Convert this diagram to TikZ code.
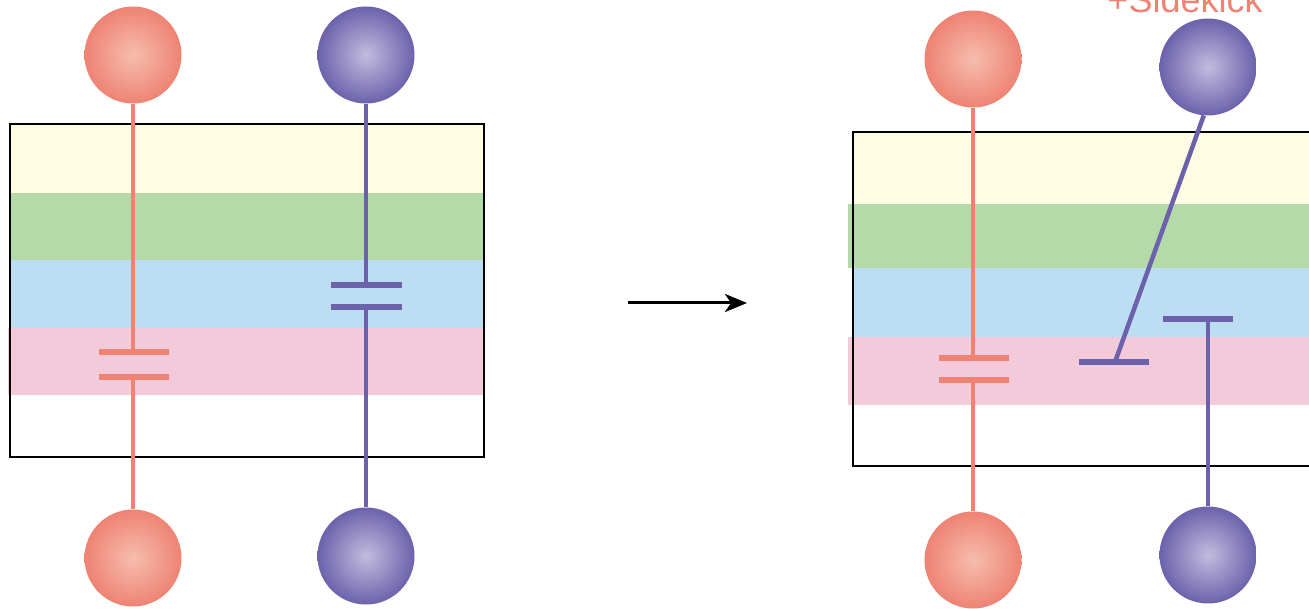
\documentclass[tikz,border=0pt]{standalone}
\usepackage{fontspec}
\setmainfont{Liberation Sans}
\usetikzlibrary{arrows.meta}
\definecolor{bandY}{HTML}{FEFCE3}
\definecolor{bandG}{HTML}{B4DAAA}
\definecolor{bandB}{HTML}{BDDDF2}
\definecolor{bandP}{HTML}{F2CADA}
\definecolor{redL}{HTML}{EE8373}
\definecolor{redIn}{HTML}{F6BDAE}
\definecolor{purL}{HTML}{6C62AC}
\definecolor{purIn}{HTML}{C2BCDE}
\tikzset{
  redball/.style={circle,inner sep=0pt,minimum size=97pt,shading=radial,inner color=redIn,outer color=redL},
  purball/.style={circle,inner sep=0pt,minimum size=97pt,shading=radial,inner color=purIn,outer color=purL},
  redwire/.style={draw=redL,line width=4.5pt},
  purwire/.style={draw=purL,line width=4.5pt},
  plate/.style={line width=5.5pt},
  boxframe/.style={draw=black,line width=2.2pt},
}
\begin{document}
\begin{tikzpicture}[x=1pt,y=-1pt]
\useasboundingbox (0,0) rectangle (1309,609);
\clip (0,0) rectangle (1309,609);
% ---------- left panel ----------
\fill[bandY] (10,124) rectangle (484,193);
\fill[bandG] (10,193) rectangle (484,260);
\fill[bandB] (10,260) rectangle (484,328);
\fill[bandP] (8,328) rectangle (484,395);
\draw[boxframe] (10,124) rectangle (484,457);
\node[redball] (rt1) at (133,55) {};
\node[redball] (rb1) at (133,558) {};
\node[purball] (pt1) at (366,55) {};
\node[purball] (pb1) at (366,556) {};
\coordinate (rc1a) at (133,352);
\coordinate (rc1b) at (133,377);
\coordinate (pc1a) at (366,285);
\coordinate (pc1b) at (366,307);
\draw[redwire] (rt1) -- (rc1a);
\draw[redwire] (rc1b) -- (rb1);
\draw[redwire,plate] ([xshift=-34pt]rc1a) -- ([xshift=36pt]rc1a);
\draw[redwire,plate] ([xshift=-34pt]rc1b) -- ([xshift=36pt]rc1b);
\draw[purwire] (pt1) -- (pc1a);
\draw[purwire] (pc1b) -- (pb1);
\draw[purwire,plate] ([xshift=-35pt]pc1a) -- ([xshift=36pt]pc1a);
\draw[purwire,plate] ([xshift=-35pt]pc1b) -- ([xshift=36pt]pc1b);
% ---------- arrow ----------
\coordinate (arA) at (628,303);
\coordinate (arB) at (747,303);
\draw[line width=3pt,-{Stealth[length=22pt,width=18pt,inset=6pt]}] (arA) -- (arB);
% ---------- right panel ----------
\fill[bandY] (853,132) rectangle (1320,204);
\fill[bandG] (848,204) rectangle (1320,268);
\fill[bandB] (853,268) rectangle (1320,337);
\fill[bandP] (848,337) rectangle (1320,405);
\draw[boxframe] (1330,132) -- (853,132) -- (853,466) -- (1330,466);
\node[redball] (rt2) at (973,59) {};
\node[redball] (rb2) at (973,560) {};
\node[purball] (pt2) at (1208,67) {};
\node[purball] (pb2) at (1208,555) {};
\coordinate (rc2a) at (973,358);
\coordinate (rc2b) at (973,380);
\draw[redwire] (rt2) -- (rc2a);
\draw[redwire] (rc2b) -- (rb2);
\draw[redwire,plate] ([xshift=-34pt]rc2a) -- ([xshift=36pt]rc2a);
\draw[redwire,plate] ([xshift=-34pt]rc2b) -- ([xshift=36pt]rc2b);
\coordinate (pd) at (1115,362);
\coordinate (pu) at (1208,319);
\draw[purwire] (pt2.-95) -- (pd);
\draw[purwire,plate] (1079,362) -- (1149,362);
\draw[purwire] (pu) -- (pb2);
\draw[purwire,plate] (1163,319) -- (1233,319);
\node[text=redL,font=\fontsize{36}{40}\selectfont,anchor=base] (sk) at (1185,13) {+Sidekick};
\end{tikzpicture}
\end{document}
